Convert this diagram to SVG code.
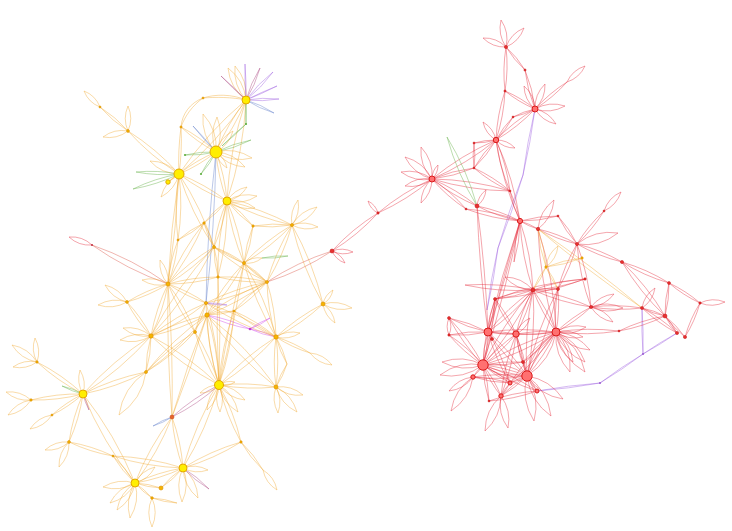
<svg xmlns="http://www.w3.org/2000/svg" xmlns:xlink="http://www.w3.org/1999/xlink" width="732" height="531" viewBox="0 0 732 531">
<style>
.lens{fill:none;vector-effect:non-scaling-stroke}
use{stroke-width:0.7;fill:none;stroke-opacity:0.6}
.o{stroke:#f0a830}
.r{stroke:#e52a3a}
.g{stroke:#5fae3e}
.p{stroke:#9a5ae0}
.m{stroke:#d03ee6}
.b{stroke:#5a78c8}
.rp{stroke:#a8407e}
.or{stroke:#dc5040}
.arc{fill:none;stroke:#f0a830;stroke-opacity:0.6;stroke-width:0.7}
.ny{fill:#ffee00;stroke:#e3a900;stroke-width:1}
.no{fill:#f6b400;stroke:#d88d00;stroke-width:0.6}
.nr{fill:#ff7070;stroke:#d91a1a;stroke-width:1}
.nrs{fill:#e83030;stroke:#c01010;stroke-width:0.5}
</style>
<defs>
<path id="P" class="lens" d="M0,0Q0.5,-0.22 1,0Q0.5,0.22 0,0"/>
<path id="E" class="lens" d="M0,0Q0.5,-0.07 1,0Q0.5,0.07 0,0"/>
<path id="N" class="lens" d="M0,0Q0.5,-0.025 1,0Q0.5,0.025 0,0"/>
</defs>
<rect width="732" height="531" fill="#ffffff"/>
<g id="connectors">
<!-- arch B - Y13 - Y12 - C -->
<path class="arc" d="M246,100 C232,94 215,94 203,98 C190,103 182,114 181,127 C179,142 178,160 179,174"/>
<path class="arc" d="M246,100 C232,97 215,97 203,98 C192,106 185,116 181,127 C182,142 181,160 179,174"/>
<!-- B star -->
<use href="#P" class="o" transform="matrix(-11,-34,34,-11,246,100)"/>
<use href="#P" class="o" transform="matrix(-18,-32,32,-18,246,100)"/>
<use href="#N" class="p" transform="matrix(-1,-36,36,-1,246,100)"/>
<use href="#E" class="rp" transform="matrix(14,-32,32,14,246,100)"/>
<use href="#E" class="p" transform="matrix(27,-28,28,27,246,100)"/>
<use href="#N" class="p" transform="matrix(31,-14,14,31,246,100)"/>
<use href="#E" class="p" transform="matrix(33,-1,1,33,246,100)"/>
<use href="#E" class="b" transform="matrix(28,13,-13,28,246,100)"/>
<use href="#N" class="rp" transform="matrix(-25,-24,24,-25,246,100)"/>
<use href="#E" class="o" transform="matrix(-30,52,-52,-30,246,100)"/>
<use href="#E" class="o" transform="matrix(-19,101,-101,-19,246,100)"/>
<use href="#N" class="g" transform="matrix(0,24,-24,0,246,100)"/>
<use href="#N" class="g" transform="matrix(-24,22,-22,-24,246,124)"/>
<use href="#E" class="o" transform="matrix(-67,74,-74,-67,246,100)"/>
<!-- A star -->
<use href="#P" class="o" transform="matrix(-13,-38,38,-13,216,152)"/>
<use href="#P" class="o" transform="matrix(1,-35,35,1,216,152)"/>
<use href="#N" class="b" transform="matrix(-23,-26,26,-23,216,152)"/>
<use href="#E" class="g" transform="matrix(35,-12,12,35,216,152)"/>
<use href="#P" class="o" transform="matrix(36,6,-6,36,216,152)"/>
<use href="#P" class="o" transform="matrix(29,15,-15,29,216,152)"/>
<use href="#P" class="o" transform="matrix(11,16,-16,11,216,152)"/>
<use href="#P" class="o" transform="matrix(17,-21,21,17,216,152)"/>
<use href="#E" class="g" transform="matrix(-31,3,-3,-31,216,152)"/>
<use href="#E" class="g" transform="matrix(-15,22,-22,-15,216,152)"/>
<use href="#E" class="o" transform="matrix(-37,22,-22,-37,216,152)"/>
<use href="#E" class="o" transform="matrix(11,49,-49,11,216,152)"/>
<use href="#N" class="b" transform="matrix(-10,151,-151,-10,216,152)"/>
<use href="#E" class="o" transform="matrix(-35,-25,25,-35,216,152)"/>
<!-- C star -->
<use href="#P" class="o" transform="matrix(-29,-13,13,-29,179,174)"/>
<use href="#E" class="g" transform="matrix(-43,-2,2,-43,179,174)"/>
<use href="#E" class="g" transform="matrix(-46,15,-15,-46,179,174)"/>
<use href="#E" class="o" transform="matrix(-11,8,-8,-11,179,174)"/>
<use href="#P" class="o" transform="matrix(-18,23,-23,-18,179,174)"/>
<use href="#E" class="o" transform="matrix(-51,-43,43,-51,179,174)"/>
<use href="#E" class="o" transform="matrix(48,27,-27,48,179,174)"/>
<use href="#E" class="o" transform="matrix(-1,66,-66,-1,179,174)"/>
<use href="#E" class="o" transform="matrix(35,73,-73,35,179,174)"/>
<use href="#N" class="o" transform="matrix(-11,110,-110,-11,179,174)"/>
<!-- Y6 -->
<use href="#E" class="o" transform="matrix(-28,-24,24,-28,128,131)"/>
<use href="#P" class="o" transform="matrix(-16,-16,16,-16,100,107)"/>
<use href="#P" class="o" transform="matrix(0,-25,25,0,128,131)"/>
<use href="#P" class="o" transform="matrix(-25,6,-6,-25,128,131)"/>
<!-- D star -->
<use href="#P" class="o" transform="matrix(20,-14,14,20,227,201)"/>
<use href="#P" class="o" transform="matrix(30,-5,5,30,227,201)"/>
<use href="#P" class="o" transform="matrix(28,7,-7,28,227,201)"/>
<use href="#E" class="o" transform="matrix(26,25,-25,26,227,201)"/>
<use href="#E" class="o" transform="matrix(65,24,-24,65,227,201)"/>
<use href="#E" class="o" transform="matrix(-23,22,-22,-23,227,201)"/>
<use href="#E" class="o" transform="matrix(-13,46,-46,-13,227,201)"/>
<use href="#E" class="o" transform="matrix(17,62,-62,17,227,201)"/>
<use href="#E" class="o" transform="matrix(-9,76,-76,-9,227,201)"/>
<use href="#E" class="o" transform="matrix(39,-1,1,39,253,226)"/>
<use href="#E" class="o" transform="matrix(-9,37,-37,-9,253,226)"/>
<!-- Y7 -->
<use href="#P" class="o" transform="matrix(6,-25,25,6,292,225)"/>
<use href="#P" class="o" transform="matrix(25,-18,18,25,292,225)"/>
<use href="#P" class="o" transform="matrix(26,2,-2,26,292,225)"/>
<use href="#E" class="o" transform="matrix(-25,57,-57,-25,292,225)"/>
<use href="#E" class="o" transform="matrix(-48,38,-38,-48,292,225)"/>
<use href="#E" class="o" transform="matrix(31,79,-79,31,292,225)"/>
<!-- Y10 Y8 Y9 -->
<use href="#E" class="o" transform="matrix(-26,17,-17,-26,204,223)"/>
<use href="#E" class="o" transform="matrix(-36,61,-61,-36,204,223)"/>
<use href="#E" class="o" transform="matrix(10,24,-24,10,204,223)"/>
<use href="#E" class="o" transform="matrix(30,16,-16,30,214,247)"/>
<use href="#E" class="o" transform="matrix(4,30,-30,4,214,247)"/>
<use href="#E" class="o" transform="matrix(-46,37,-37,-46,214,247)"/>
<use href="#E" class="o" transform="matrix(53,35,-35,53,214,247)"/>
<use href="#E" class="o" transform="matrix(-63,89,-89,-63,214,247)"/>
<use href="#P" class="o" transform="matrix(18,-5,5,18,244,263)"/>
<use href="#E" class="g" transform="matrix(26,-2,2,26,262,258)"/>
<use href="#E" class="o" transform="matrix(-37,52,-52,-37,244,263)"/>
<use href="#N" class="o" transform="matrix(-25,122,-122,-25,244,263)"/>
<use href="#E" class="o" transform="matrix(23,19,-19,23,244,263)"/>
<use href="#E" class="o" transform="matrix(32,74,-74,32,244,263)"/>
<!-- Y22 -->
<use href="#E" class="or" transform="matrix(-76,-39,39,-76,168,284)"/>
<use href="#P" class="r" transform="matrix(-23,-8,8,-23,92,245)"/>
<use href="#P" class="o" transform="matrix(-26,-4,4,-26,168,284)"/>
<use href="#P" class="o" transform="matrix(-8,-24,24,-8,168,284)"/>
<use href="#E" class="o" transform="matrix(-41,18,-18,-41,168,284)"/>
<use href="#E" class="o" transform="matrix(-17,52,-52,-17,168,284)"/>
<use href="#E" class="o" transform="matrix(50,-7,7,50,168,284)"/>
<use href="#E" class="o" transform="matrix(49,5,-5,49,218,277)"/>
<use href="#E" class="o" transform="matrix(38,19,-19,38,168,284)"/>
<use href="#N" class="o" transform="matrix(4,133,-133,4,168,284)"/>
<use href="#E" class="o" transform="matrix(27,48,-48,27,168,284)"/>
<use href="#E" class="o" transform="matrix(-10,44,-44,-10,178,240)"/>
<!-- Y27 Y21 -->
<use href="#P" class="o" transform="matrix(-22,-17,17,-22,127,302)"/>
<use href="#P" class="o" transform="matrix(-29,3,-3,-29,127,302)"/>
<use href="#E" class="o" transform="matrix(24,34,-34,24,127,302)"/>
<use href="#P" class="o" transform="matrix(-28,-8,8,-28,151,336)"/>
<use href="#P" class="o" transform="matrix(-31,4,-4,-31,151,336)"/>
<use href="#E" class="o" transform="matrix(-68,58,-58,-68,151,336)"/>
<use href="#E" class="o" transform="matrix(55,-33,33,55,151,336)"/>
<use href="#E" class="o" transform="matrix(-5,36,-36,-5,151,336)"/>
<use href="#E" class="o" transform="matrix(68,49,-49,68,151,336)"/>
<use href="#E" class="o" transform="matrix(56,-21,21,56,151,336)"/>
<!-- Y15 -->
<use href="#P" class="o" transform="matrix(-3,-24,24,-3,83,394)"/>
<use href="#E" class="o" transform="matrix(-46,-32,32,-46,83,394)"/>
<use href="#E" class="o" transform="matrix(-52,6,-6,-52,83,394)"/>
<use href="#E" class="g" transform="matrix(-21,-8,8,-21,83,394)"/>
<use href="#E" class="rp" transform="matrix(6,16,-16,6,83,394)"/>
<use href="#E" class="o" transform="matrix(-14,48,-48,-14,83,394)"/>
<use href="#E" class="o" transform="matrix(-31,21,-21,-31,83,394)"/>
<use href="#P" class="o" transform="matrix(-22,14,-14,-22,52,415)"/>
<use href="#E" class="o" transform="matrix(63,-22,22,63,83,394)"/>
<use href="#E" class="o" transform="matrix(52,89,-89,52,83,394)"/>
<use href="#P" class="o" transform="matrix(-25,-17,17,-25,37,362)"/>
<use href="#P" class="o" transform="matrix(-2,-24,24,-2,37,362)"/>
<use href="#P" class="o" transform="matrix(-24,5,-5,-24,37,362)"/>
<use href="#P" class="o" transform="matrix(-25,-8,8,-25,31,400)"/>
<use href="#P" class="o" transform="matrix(-23,15,-15,-23,31,400)"/>
<use href="#P" class="o" transform="matrix(-24,8,-8,-24,69,442)"/>
<use href="#P" class="o" transform="matrix(-10,25,-25,-10,69,442)"/>
<use href="#E" class="o" transform="matrix(44,14,-14,44,69,442)"/>
<use href="#E" class="o" transform="matrix(70,12,-12,70,113,456)"/>
<use href="#E" class="o" transform="matrix(22,27,-27,22,113,456)"/>
<!-- Y17 Y16 -->
<use href="#P" class="o" transform="matrix(-32,4,-4,-32,135,483)"/>
<use href="#P" class="o" transform="matrix(-25,20,-20,-25,135,483)"/>
<use href="#P" class="o" transform="matrix(-18,27,-27,-18,135,483)"/>
<use href="#P" class="o" transform="matrix(-5,35,-35,-5,135,483)"/>
<use href="#P" class="o" transform="matrix(20,-16,16,20,135,483)"/>
<use href="#E" class="o" transform="matrix(17,15,-15,17,135,483)"/>
<use href="#P" class="o" transform="matrix(0,29,-29,0,152,498)"/>
<use href="#E" class="o" transform="matrix(48,-15,15,48,135,483)"/>
<use href="#E" class="o" transform="matrix(26,5,-5,26,135,483)"/>
<use href="#E" class="o" transform="matrix(37,-66,66,37,135,483)"/>
<use href="#P" class="o" transform="matrix(15,30,-30,15,183,468)"/>
<use href="#P" class="o" transform="matrix(-1,34,-34,-1,183,468)"/>
<use href="#E" class="rp" transform="matrix(26,21,-21,26,183,468)"/>
<use href="#P" class="o" transform="matrix(25,2,-2,25,183,468)"/>
<use href="#E" class="o" transform="matrix(36,-83,83,36,183,468)"/>
<use href="#E" class="o" transform="matrix(-11,-51,51,-11,183,468)"/>
<use href="#E" class="o" transform="matrix(58,-26,26,58,183,468)"/>
<use href="#E" class="o" transform="matrix(-22,20,-20,-22,183,468)"/>
<use href="#E" class="o" transform="matrix(25,5,-5,25,152,498)"/>
<use href="#E" class="o" transform="matrix(22,28,-28,22,241,442)"/>
<use href="#P" class="o" transform="matrix(14,20,-20,14,263,470)"/>
<use href="#E" class="o" transform="matrix(-22,-57,57,-22,241,442)"/>
<!-- Y29 -->
<use href="#E" class="b" transform="matrix(-19,9,-9,-19,172,417)"/>
<use href="#E" class="rp" transform="matrix(47,-32,32,47,172,417)"/>
<use href="#N" class="o" transform="matrix(35,-102,102,35,172,417)"/>
<!-- Y14 -->
<use href="#P" class="o" transform="matrix(-19,8,-8,-19,219,385)"/>
<use href="#P" class="o" transform="matrix(16,-3,3,16,219,385)"/>
<use href="#P" class="o" transform="matrix(26,15,-15,26,219,385)"/>
<use href="#P" class="o" transform="matrix(1,27,-27,1,219,385)"/>
<use href="#P" class="o" transform="matrix(19,27,-27,19,219,385)"/>
<use href="#P" class="o" transform="matrix(-12,25,-25,-12,219,385)"/>
<use href="#E" class="o" transform="matrix(57,-48,48,57,219,385)"/>
<use href="#E" class="o" transform="matrix(57,2,-2,57,219,385)"/>
<use href="#E" class="o" transform="matrix(-12,-70,70,-12,219,385)"/>
<use href="#E" class="o" transform="matrix(-24,-53,53,-24,219,385)"/>
<use href="#E" class="o" transform="matrix(15,-74,74,15,219,385)"/>
<use href="#E" class="o" transform="matrix(-13,-82,82,-13,219,385)"/>
<use href="#N" class="o" transform="matrix(-1,-108,108,-1,219,385)"/>
<!-- Y18 Y19 Y20 -->
<use href="#P" class="o" transform="matrix(27,8,-8,27,276,387)"/>
<use href="#P" class="o" transform="matrix(21,25,-25,21,276,387)"/>
<use href="#P" class="o" transform="matrix(2,26,-26,2,276,387)"/>
<use href="#E" class="o" transform="matrix(0,-50,50,0,276,387)"/>
<use href="#E" class="o" transform="matrix(-69,-72,72,-69,276,387)"/>
<use href="#E" class="o" transform="matrix(11,27,-27,11,276,337)"/>
<use href="#E" class="o" transform="matrix(-11,23,-23,-11,287,364)"/>
<use href="#P" class="o" transform="matrix(24,-4,4,24,276,337)"/>
<use href="#E" class="o" transform="matrix(34,16,-16,34,276,337)"/>
<use href="#P" class="o" transform="matrix(22,12,-12,22,310,353)"/>
<use href="#E" class="o" transform="matrix(47,-33,33,47,276,337)"/>
<use href="#E" class="o" transform="matrix(-9,-55,55,-9,276,337)"/>
<use href="#E" class="m" transform="matrix(-26,-8,8,-26,276,337)"/>
<use href="#E" class="o" transform="matrix(-70,-34,34,-70,276,337)"/>
<use href="#E" class="o" transform="matrix(-42,-26,26,-42,276,337)"/>
<use href="#P" class="o" transform="matrix(10,-14,14,10,323,304)"/>
<use href="#P" class="o" transform="matrix(29,4,-4,29,323,304)"/>
<use href="#P" class="o" transform="matrix(12,19,-19,12,323,304)"/>
<use href="#E" class="m" transform="matrix(-43,-14,14,-43,250,329)"/>
<use href="#E" class="m" transform="matrix(20,-11,11,20,250,329)"/>
<!-- Y24 Y23 Y25 Y26 Y37 -->
<use href="#E" class="o" transform="matrix(61,-21,21,61,206,303)"/>
<use href="#E" class="p" transform="matrix(21,2,-2,21,206,303)"/>
<use href="#E" class="o" transform="matrix(-11,29,-29,-11,206,303)"/>
<use href="#E" class="o" transform="matrix(-61,57,-57,-61,207,315)"/>
<use href="#E" class="o" transform="matrix(27,-4,4,27,207,315)"/>
<use href="#E" class="o" transform="matrix(60,-33,33,60,207,315)"/>
<use href="#E" class="o" transform="matrix(-49,40,-40,-49,195,332)"/>
<use href="#E" class="o" transform="matrix(33,-29,29,33,234,311)"/>
<use href="#P" class="o" transform="matrix(-27,43,-43,-27,146,372)"/>
<!-- bridge -->
<use href="#E" class="or" transform="matrix(65,-31,31,65,267,282)"/>
<use href="#P" class="r" transform="matrix(21,1,-1,21,332,251)"/>
<use href="#P" class="r" transform="matrix(13,12,-12,13,332,251)"/>
<use href="#E" class="r" transform="matrix(46,-38,38,46,332,251)"/>
<use href="#E" class="r" transform="matrix(54,-34,34,54,378,213)"/>
<use href="#P" class="r" transform="matrix(-10,-12,12,-10,378,213)"/>
<!-- R1 R2 -->
<use href="#P" class="r" transform="matrix(-5,-27,27,-5,506,47)"/>
<use href="#P" class="r" transform="matrix(18,-19,19,18,506,47)"/>
<use href="#P" class="r" transform="matrix(-23,-9,9,-23,506,47)"/>
<use href="#E" class="r" transform="matrix(-1,44,-44,-1,506,47)"/>
<use href="#E" class="r" transform="matrix(19,23,-23,19,506,47)"/>
<use href="#E" class="r" transform="matrix(10,39,-39,10,525,70)"/>
<use href="#E" class="r" transform="matrix(30,18,-18,30,505,91)"/>
<use href="#E" class="r" transform="matrix(-9,49,-49,-9,505,91)"/>
<use href="#P" class="r" transform="matrix(10,-25,25,10,535,109)"/>
<use href="#P" class="r" transform="matrix(-11,-23,23,-11,535,109)"/>
<use href="#P" class="r" transform="matrix(30,-3,3,30,535,109)"/>
<use href="#P" class="r" transform="matrix(21,15,-15,21,535,109)"/>
<use href="#E" class="r" transform="matrix(32,-27,27,32,535,109)"/>
<use href="#P" class="r" transform="matrix(18,-16,16,18,567,82)"/>
<use href="#E" class="r" transform="matrix(-22,8,-8,-22,535,109)"/>
<use href="#E" class="r" transform="matrix(-17,23,-23,-17,513,117)"/>
<use href="#E" class="r" transform="matrix(-39,31,-31,-39,535,109)"/>
<use href="#N" class="p" transform="matrix(-12,66,-66,-12,535,109)"/>
<use href="#N" class="p" transform="matrix(-25,73,-73,-25,523,175)"/>
<use href="#N" class="p" transform="matrix(-11,62,-62,-11,498,248)"/>
<!-- R3 R4 -->
<use href="#P" class="r" transform="matrix(-13,-18,18,-13,496,140)"/>
<use href="#P" class="r" transform="matrix(19,8,-8,19,496,140)"/>
<use href="#E" class="r" transform="matrix(-22,3,-3,-22,496,140)"/>
<use href="#E" class="r" transform="matrix(-22,28,-28,-22,496,140)"/>
<use href="#E" class="r" transform="matrix(-64,39,-39,-64,496,140)"/>
<use href="#E" class="r" transform="matrix(24,81,-81,24,496,140)"/>
<use href="#E" class="r" transform="matrix(14,51,-51,14,496,140)"/>
<use href="#E" class="r" transform="matrix(0,25,-25,0,474,143)"/>
<use href="#P" class="r" transform="matrix(-27,-22,22,-27,432,179)"/>
<use href="#P" class="r" transform="matrix(-11,-32,32,-11,432,179)"/>
<use href="#P" class="r" transform="matrix(-31,-7,7,-31,432,179)"/>
<use href="#P" class="r" transform="matrix(-27,7,-7,-27,432,179)"/>
<use href="#P" class="r" transform="matrix(-11,24,-24,-11,432,179)"/>
<use href="#P" class="r" transform="matrix(6,-14,14,6,432,179)"/>
<use href="#E" class="r" transform="matrix(42,-11,11,42,432,179)"/>
<use href="#E" class="r" transform="matrix(45,27,-27,45,432,179)"/>
<use href="#E" class="r" transform="matrix(34,30,-30,34,432,179)"/>
<use href="#E" class="r" transform="matrix(78,12,-12,78,432,179)"/>
<use href="#E" class="g" transform="matrix(30,69,-69,30,447,137)"/>
<!-- R7 R8 R9 R10 -->
<use href="#P" class="r" transform="matrix(9,-16,16,9,477,206)"/>
<use href="#E" class="r" transform="matrix(43,15,-15,43,477,206)"/>
<use href="#N" class="r" transform="matrix(11,126,-126,11,477,206)"/>
<use href="#E" class="r" transform="matrix(54,12,-12,54,466,209)"/>
<use href="#E" class="r" transform="matrix(36,23,-23,36,474,168)"/>
<use href="#E" class="r" transform="matrix(10,30,-30,10,510,191)"/>
<use href="#E" class="r" transform="matrix(18,8,-8,18,520,221)"/>
<use href="#E" class="r" transform="matrix(38,-5,5,38,520,221)"/>
<use href="#N" class="r" transform="matrix(-37,144,-144,-37,520,221)"/>
<use href="#N" class="r" transform="matrix(-32,111,-111,-32,520,221)"/>
<use href="#E" class="r" transform="matrix(13,69,-69,13,520,221)"/>
<use href="#E" class="r" transform="matrix(-6,41,-41,-6,520,221)"/>
<use href="#P" class="r" transform="matrix(16,-29,29,16,538,229)"/>
<use href="#E" class="r" transform="matrix(39,15,-15,39,538,229)"/>
<use href="#E" class="r" transform="matrix(18,103,-103,18,538,229)"/>
<use href="#E" class="o" transform="matrix(8,38,-38,8,538,229)"/>
<use href="#N" class="o" transform="matrix(104,79,-79,104,538,229)"/>
<use href="#E" class="r" transform="matrix(19,28,-28,19,558,216)"/>
<use href="#E" class="r" transform="matrix(27,-33,33,27,577,244)"/>
<use href="#P" class="r" transform="matrix(17,-19,19,17,604,211)"/>
<use href="#P" class="r" transform="matrix(41,-11,11,41,577,244)"/>
<use href="#E" class="r" transform="matrix(45,18,-18,45,577,244)"/>
<use href="#E" class="r" transform="matrix(-19,45,-45,-19,577,244)"/>
<use href="#E" class="r" transform="matrix(14,63,-63,14,577,244)"/>
<!-- far right -->
<use href="#E" class="r" transform="matrix(47,21,-21,47,622,262)"/>
<use href="#E" class="r" transform="matrix(43,54,-54,43,622,262)"/>
<use href="#E" class="r" transform="matrix(31,20,-20,31,669,283)"/>
<use href="#P" class="r" transform="matrix(25,-1,1,25,700,303)"/>
<use href="#E" class="r" transform="matrix(-15,34,-34,-15,700,303)"/>
<use href="#E" class="r" transform="matrix(-4,33,-33,-4,669,283)"/>
<use href="#E" class="r" transform="matrix(20,21,-21,20,665,316)"/>
<use href="#E" class="r" transform="matrix(12,17,-17,12,665,316)"/>
<use href="#E" class="r" transform="matrix(23,8,-8,23,642,308)"/>
<use href="#P" class="r" transform="matrix(13,-20,20,13,642,308)"/>
<use href="#E" class="r" transform="matrix(-51,-1,1,-51,642,308)"/>
<use href="#E" class="r" transform="matrix(35,25,-25,35,642,308)"/>
<use href="#N" class="p" transform="matrix(1,46,-46,1,642,308)"/>
<use href="#N" class="p" transform="matrix(34,-21,21,34,643,354)"/>
<use href="#N" class="p" transform="matrix(-43,29,-29,-43,643,354)"/>
<use href="#N" class="p" transform="matrix(-63,8,-8,-63,600,383)"/>
<use href="#E" class="r" transform="matrix(63,-1,1,63,556,332)"/>
<use href="#E" class="r" transform="matrix(46,-15,15,46,619,331)"/>
<!-- R24 area -->
<use href="#E" class="r" transform="matrix(-68,-5,5,-68,533,290)"/>
<use href="#P" class="r" transform="matrix(-28,-13,13,-28,533,290)"/>
<use href="#E" class="r" transform="matrix(52,-11,11,52,533,290)"/>
<use href="#E" class="r" transform="matrix(58,17,-17,58,533,290)"/>
<use href="#E" class="r" transform="matrix(-45,42,-42,-45,533,290)"/>
<use href="#E" class="r" transform="matrix(-17,44,-44,-17,533,290)"/>
<use href="#E" class="r" transform="matrix(23,42,-42,23,533,290)"/>
<use href="#E" class="r" transform="matrix(-38,9,-9,-38,533,290)"/>
<use href="#E" class="r" transform="matrix(-6,86,-86,-6,533,290)"/>
<use href="#E" class="r" transform="matrix(-50,75,-75,-50,533,290)"/>
<use href="#E" class="r" transform="matrix(25,-1,1,25,533,290)"/>
<use href="#E" class="r" transform="matrix(-2,43,-43,-2,558,289)"/>
<use href="#E" class="r" transform="matrix(-31,87,-87,-31,558,289)"/>
<use href="#E" class="r" transform="matrix(-90,20,-20,-90,585,279)"/>
<use href="#E" class="o" transform="matrix(36,-9,9,36,546,267)"/>
<use href="#P" class="o" transform="matrix(12,-21,21,12,546,267)"/>
<use href="#E" class="o" transform="matrix(12,22,-22,12,546,267)"/>
<use href="#E" class="o" transform="matrix(13,-23,23,13,533,290)"/>
<use href="#P" class="r" transform="matrix(23,-13,13,23,591,307)"/>
<use href="#P" class="r" transform="matrix(32,1,-1,32,591,307)"/>
<use href="#P" class="r" transform="matrix(22,15,-15,22,591,307)"/>
<use href="#E" class="r" transform="matrix(-35,25,-25,-35,591,307)"/>
<!-- R22 -->
<use href="#P" class="r" transform="matrix(30,-5,5,30,556,332)"/>
<use href="#P" class="r" transform="matrix(27,5,-5,27,556,332)"/>
<use href="#P" class="r" transform="matrix(34,18,-18,34,556,332)"/>
<use href="#P" class="r" transform="matrix(29,30,-30,29,556,332)"/>
<use href="#P" class="r" transform="matrix(17,30,-30,17,556,332)"/>
<use href="#P" class="r" transform="matrix(29,40,-40,29,556,332)"/>
<use href="#P" class="r" transform="matrix(14,40,-40,14,556,332)"/>
<use href="#E" class="r" transform="matrix(-68,0,0,-68,556,332)"/>
<use href="#E" class="r" transform="matrix(-40,2,-2,-40,556,332)"/>
<use href="#E" class="r" transform="matrix(-29,44,-44,-29,556,332)"/>
<use href="#P" class="r" transform="matrix(-29,44,-44,-29,556,332)"/>
<use href="#E" class="r" transform="matrix(-73,33,-33,-73,556,332)"/>
<use href="#E" class="r" transform="matrix(-46,51,-51,-46,556,332)"/>
<use href="#E" class="r" transform="matrix(-33,30,-30,-33,556,332)"/>
<!-- R21 R23 -->
<use href="#E" class="r" transform="matrix(-39,-14,14,-39,488,332)"/>
<use href="#E" class="r" transform="matrix(-39,3,-3,-39,488,332)"/>
<use href="#P" class="r" transform="matrix(0,17,-17,0,449,318)"/>
<use href="#E" class="r" transform="matrix(28,2,-2,28,488,332)"/>
<use href="#E" class="r" transform="matrix(-5,33,-33,-5,488,332)"/>
<use href="#E" class="r" transform="matrix(39,44,-44,39,488,332)"/>
<use href="#E" class="r" transform="matrix(7,-33,33,7,488,332)"/>
<use href="#E" class="r" transform="matrix(22,51,-51,22,488,332)"/>
<use href="#E" class="r" transform="matrix(-33,31,-31,-33,516,334)"/>
<use href="#E" class="r" transform="matrix(11,42,-42,11,516,334)"/>
<use href="#E" class="r" transform="matrix(7,28,-28,7,516,334)"/>
<use href="#E" class="r" transform="matrix(-21,-35,35,-21,516,334)"/>
<use href="#P" class="r" transform="matrix(14,-16,16,14,516,334)"/>
<use href="#E" class="r" transform="matrix(-15,62,-62,-15,516,334)"/>
<!-- R19 -->
<use href="#P" class="r" transform="matrix(-41,-3,3,-41,483,365)"/>
<use href="#P" class="r" transform="matrix(-43,10,-10,-43,483,365)"/>
<use href="#E" class="r" transform="matrix(-10,12,-12,-10,483,365)"/>
<use href="#E" class="r" transform="matrix(44,11,-11,44,483,365)"/>
<use href="#P" class="r" transform="matrix(44,11,-11,44,483,365)"/>
<use href="#E" class="r" transform="matrix(27,18,-18,27,483,365)"/>
<use href="#E" class="r" transform="matrix(18,31,-31,18,483,365)"/>
<use href="#E" class="r" transform="matrix(40,-3,3,40,483,365)"/>
<use href="#E" class="r" transform="matrix(54,26,-26,54,483,365)"/>
<use href="#E" class="r" transform="matrix(-34,-30,30,-34,483,365)"/>
<use href="#E" class="r" transform="matrix(-34,-47,47,-34,483,365)"/>
<use href="#E" class="r" transform="matrix(12,-66,66,12,483,365)"/>
<use href="#E" class="r" transform="matrix(6,36,-36,6,483,365)"/>
<use href="#P" class="r" transform="matrix(-24,14,-14,-24,473,377)"/>
<use href="#P" class="r" transform="matrix(-22,34,-34,-22,473,377)"/>
<use href="#E" class="r" transform="matrix(37,6,-6,37,473,377)"/>
<use href="#E" class="r" transform="matrix(54,-1,1,54,473,377)"/>
<use href="#P" class="r" transform="matrix(-16,35,-35,-16,501,396)"/>
<use href="#P" class="r" transform="matrix(7,32,-32,7,501,396)"/>
<use href="#E" class="r" transform="matrix(26,-20,20,26,501,396)"/>
<use href="#E" class="r" transform="matrix(48,-10,10,48,489,401)"/>
<use href="#E" class="r" transform="matrix(9,-13,13,9,501,396)"/>
<use href="#P" class="r" transform="matrix(7,45,-45,7,527,376)"/>
<use href="#P" class="r" transform="matrix(24,40,-40,24,527,376)"/>
<use href="#P" class="r" transform="matrix(36,23,-23,36,527,376)"/>
<use href="#E" class="r" transform="matrix(10,15,-15,10,527,376)"/>
<use href="#E" class="r" transform="matrix(-17,7,-7,-17,527,376)"/>
<use href="#E" class="r" transform="matrix(-4,-14,14,-4,527,376)"/>
</g>
<g id="nodes">
<g id="nA"><circle class="ny" cx="216" cy="152" r="6"/></g>
<g id="nB"><circle class="ny" cx="246" cy="100" r="4"/></g>
<g id="nC"><circle class="ny" cx="179" cy="174" r="5"/></g>
<g id="nD"><circle class="ny" cx="227" cy="201" r="4"/></g>
<g id="nY5"><circle class="ny" cx="168" cy="182" r="2.2"/></g>
<g id="nY6"><circle class="no" cx="128" cy="131" r="1.4"/></g>
<g id="nY7"><circle class="no" cx="292" cy="225" r="1.5"/></g>
<g id="nY8"><circle class="no" cx="214" cy="247" r="1.5"/></g>
<g id="nY9"><circle class="no" cx="244" cy="263" r="1.5"/></g>
<g id="nY10"><circle class="no" cx="204" cy="223" r="1.2"/></g>
<g id="nY11"><circle class="no" cx="253" cy="226" r="1.2"/></g>
<g id="nY12"><circle class="no" cx="181" cy="127" r="1.1"/></g>
<g id="nY13"><circle class="no" cx="203" cy="98" r="1"/></g>
<g id="nG1"><circle cx="246" cy="124" r="1.1" fill="#5fae3e"/></g>
<g id="nG2"><circle cx="185" cy="155" r="1.1" fill="#5fae3e"/></g>
<g id="nG3"><circle cx="201" cy="174" r="1.1" fill="#5fae3e"/></g>
<g id="nY14"><circle class="ny" cx="219" cy="385" r="4.5"/></g>
<g id="nY15"><circle class="ny" cx="83" cy="394" r="4"/></g>
<g id="nY16"><circle class="ny" cx="183" cy="468" r="4"/></g>
<g id="nY17"><circle class="ny" cx="135" cy="483" r="4"/></g>
<g id="nY18"><circle class="no" cx="276" cy="387" r="2"/></g>
<g id="nY19"><circle class="no" cx="276" cy="337" r="2.2"/></g>
<g id="nY20"><circle class="no" cx="323" cy="304" r="2"/></g>
<g id="nY21"><circle class="no" cx="151" cy="336" r="2.2"/></g>
<g id="nY22"><circle class="no" cx="168" cy="284" r="2"/></g>
<g id="nY23"><circle class="no" cx="207" cy="315" r="2.2"/></g>
<g id="nY24"><circle class="no" cx="206" cy="303" r="1.6"/></g>
<g id="nY25"><circle class="no" cx="195" cy="332" r="1.5"/></g>
<g id="nY26"><circle class="no" cx="146" cy="372" r="1.5"/></g>
<g id="nY27"><circle class="no" cx="127" cy="302" r="1.4"/></g>
<g id="nY28"><circle class="no" cx="267" cy="282" r="1.5"/></g>
<g id="nY29"><circle cx="172" cy="417" r="2" fill="#e8642a" stroke="#c04010" stroke-width="0.5"/></g>
<g id="nY30"><circle class="no" cx="69" cy="442" r="1.4"/></g>
<g id="nY31"><circle class="no" cx="37" cy="362" r="1.2"/></g>
<g id="nY32"><circle class="no" cx="31" cy="400" r="1.2"/></g>
<g id="nY33"><circle class="no" cx="161" cy="488" r="2"/></g>
<g id="nY34"><circle class="no" cx="152" cy="498" r="1.3"/></g>
<g id="nY35"><circle class="no" cx="241" cy="442" r="1.2"/></g>
<g id="nY36"><circle class="no" cx="218" cy="277" r="1.2"/></g>
<g id="nY37"><circle class="no" cx="234" cy="311" r="1"/></g>
<g id="nY38"><circle cx="250" cy="329" r="1.3" fill="#c040d0"/></g>
<g id="nY39"><circle class="nrs" cx="332" cy="251" r="2"/></g>
<g id="nY40"><circle class="no" cx="178" cy="240" r="1"/></g>
<g id="nY41"><circle class="no" cx="100" cy="107" r="1"/></g>
<g id="nY42"><circle cx="92" cy="245" r="1" fill="#c03040"/></g>
<g id="nY43"><circle class="no" cx="113" cy="456" r="1"/></g>
<g id="nY44"><circle class="no" cx="52" cy="415" r="1"/></g>
<g id="nR1"><circle class="nrs" cx="506" cy="47" r="1.6"/></g>
<g id="nR2"><circle class="nr" cx="535" cy="109" r="3"/></g>
<g id="nR3"><circle class="nr" cx="496" cy="140" r="2.7"/></g>
<g id="nR4"><circle class="nr" cx="432" cy="179" r="3"/></g>
<g id="nR5"><circle class="nrs" cx="505" cy="91" r="1.1"/></g>
<g id="nR6"><circle class="nrs" cx="525" cy="70" r="1.1"/></g>
<g id="nR7"><circle class="nrs" cx="477" cy="206" r="2"/></g>
<g id="nR8"><circle class="nr" cx="520" cy="221" r="2.6"/></g>
<g id="nR9"><circle class="nrs" cx="538" cy="229" r="1.7"/></g>
<g id="nR10"><circle class="nrs" cx="577" cy="244" r="1.6"/></g>
<g id="nR11"><circle class="nrs" cx="474" cy="168" r="1"/></g>
<g id="nR12"><circle class="nrs" cx="474" cy="143" r="1"/></g>
<g id="nR13"><circle class="nrs" cx="378" cy="213" r="1.2"/></g>
<g id="nR14"><circle class="nrs" cx="622" cy="262" r="1.6"/></g>
<g id="nR15"><circle class="nrs" cx="604" cy="211" r="1"/></g>
<g id="nR16"><circle class="nrs" cx="466" cy="209" r="1"/></g>
<g id="nR17"><circle class="nrs" cx="558" cy="216" r="1"/></g>
<g id="nR18"><circle class="nrs" cx="510" cy="191" r="1"/></g>
<g id="nR19"><circle class="nr" cx="483" cy="365" r="5.2"/></g>
<g id="nR20"><circle class="nr" cx="527" cy="376" r="5.2"/></g>
<g id="nR21"><circle class="nr" cx="488" cy="332" r="4"/></g>
<g id="nR22"><circle class="nr" cx="556" cy="332" r="4"/></g>
<g id="nR23"><circle class="nr" cx="516" cy="334" r="3.2"/></g>
<g id="nR24"><circle class="nrs" cx="533" cy="290" r="2"/></g>
<g id="nR25"><circle class="nrs" cx="558" cy="289" r="1.5"/></g>
<g id="nR26"><circle class="nrs" cx="585" cy="279" r="1.2"/></g>
<g id="nR27"><circle class="nrs" cx="591" cy="307" r="1.6"/></g>
<g id="nR28"><circle class="nrs" cx="495" cy="299" r="1.5"/></g>
<g id="nR29"><circle class="nrs" cx="669" cy="283" r="1.5"/></g>
<g id="nR30"><circle class="nrs" cx="700" cy="303" r="1.2"/></g>
<g id="nR31"><circle class="nrs" cx="665" cy="316" r="2"/></g>
<g id="nR32"><circle class="nrs" cx="642" cy="308" r="1.5"/></g>
<g id="nR33"><circle class="nrs" cx="677" cy="333" r="1.6"/></g>
<g id="nR34"><circle class="nrs" cx="685" cy="337" r="1.6"/></g>
<g id="nR35"><circle cx="643" cy="354" r="1" fill="#9a5ad0"/></g>
<g id="nR36"><circle cx="600" cy="383" r="1" fill="#9a5ad0"/></g>
<g id="nR37"><circle class="nr" cx="537" cy="391" r="2"/></g>
<g id="nR38"><circle class="nr" cx="510" cy="383" r="2"/></g>
<g id="nR39"><circle class="nr" cx="501" cy="396" r="2.2"/></g>
<g id="nR40"><circle class="nr" cx="473" cy="377" r="2.2"/></g>
<g id="nR41"><circle class="nrs" cx="523" cy="362" r="1.5"/></g>
<g id="nR42"><circle class="nrs" cx="449" cy="318" r="1.5"/></g>
<g id="nR43"><circle class="nrs" cx="449" cy="335" r="1.2"/></g>
<g id="nR44"><circle class="nrs" cx="492" cy="339" r="1.5"/></g>
<g id="nR45"><circle class="nrs" cx="489" cy="401" r="1"/></g>
<g id="nR46"><circle class="nrs" cx="619" cy="331" r="1"/></g>
<g id="nR47"><circle class="nrs" cx="513" cy="117" r="1"/></g>
<g id="nYN1"><circle class="no" cx="546" cy="267" r="1.2"/></g>
<g id="nYN2"><circle class="no" cx="582" cy="258" r="1.2"/></g>
</g>
</svg>
